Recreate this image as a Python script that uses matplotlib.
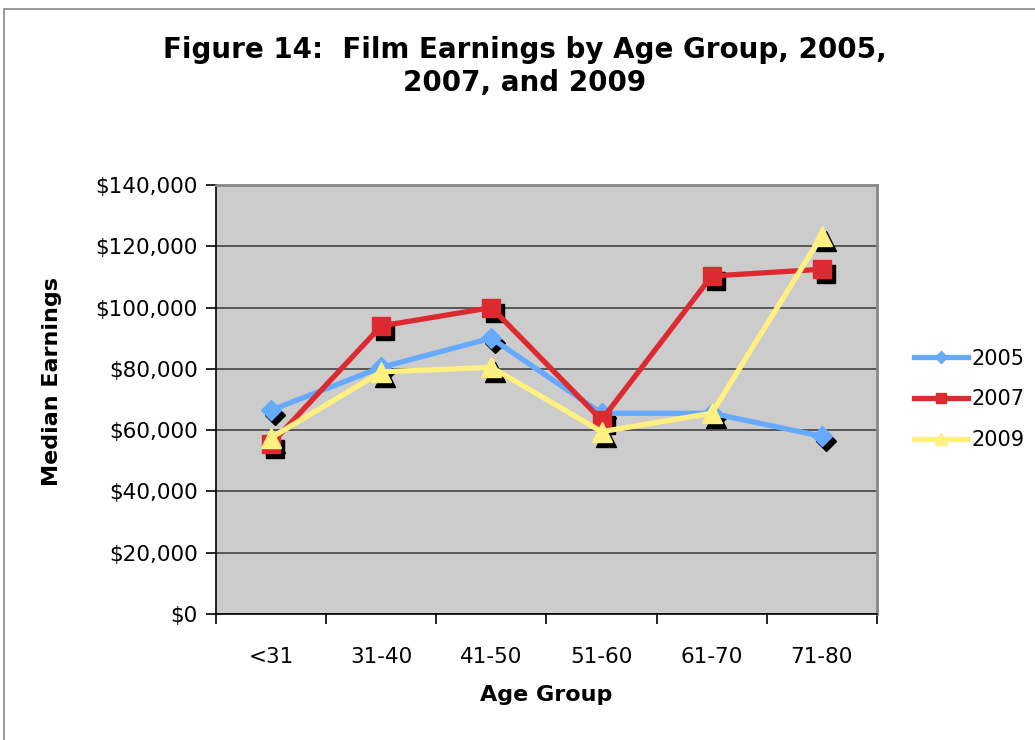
import matplotlib
matplotlib.use("Agg")
import matplotlib.pyplot as plt
import matplotlib.transforms as mtransforms
from matplotlib.patches import Rectangle
from matplotlib.ticker import FuncFormatter, MultipleLocator

age_groups = ["<31", "31-40", "41-50", "51-60", "61-70", "71-80"]
earn_2005 = [66500, 80500, 90000, 65500, 65500, 58000]
earn_2007 = [55500, 94000, 100000, 63300, 110300, 112500]
earn_2009 = [57500, 79000, 80500, 59500, 65500, 123500]

series = [
    ("2005", earn_2005, "#66AAFF", "D", 10),
    ("2007", earn_2007, "#DD2A30", "s", 13),
    ("2009", earn_2009, "#FFF080", "^", 14),
]

fig = plt.figure(figsize=(10.35, 7.4), dpi=100)
ax = fig.add_axes([0.2087, 0.1703, 0.8473 - 0.2087, 0.75 - 0.1703])
ax.set_facecolor("#CCCCCC")

# thin frame around the chart area
fig.patches.append(Rectangle((4 / 1035, -0.01), 1.1, 1 - 9 / 740 + 0.01,
                             transform=fig.transFigure, fill=False,
                             edgecolor="#888888", linewidth=1.2))

x = range(len(age_groups))
shadow = mtransforms.offset_copy(ax.transData, fig=fig, x=4, y=-5, units="dots")

for label, vals, color, marker, ms in series:
    ax.plot(x, vals, linestyle="none", marker=marker, markersize=ms,
            color="black", transform=shadow, zorder=2)
for label, vals, color, marker, ms in series:
    ax.plot(x, vals, color=color, marker=marker, markersize=ms, linewidth=3.8,
            label=label, zorder=3)

ax.set_xlim(-0.5, len(age_groups) - 0.5)
ax.set_ylim(0, 140000)
ax.yaxis.set_major_locator(MultipleLocator(20000))
ax.yaxis.set_major_formatter(FuncFormatter(lambda v, p: f"${v:,.0f}"))
ax.grid(axis="y", color="#444444", linewidth=1.2)
ax.set_axisbelow(True)

ax.set_xticks([i - 0.5 for i in range(len(age_groups) + 1)], minor=False)
ax.set_xticklabels([])
ax.set_xticks(list(x), minor=True)
ax.set_xticklabels(age_groups, minor=True, fontsize=15.5)
ax.tick_params(axis="x", which="minor", length=0, pad=24)
ax.tick_params(axis="x", which="major", direction="out", length=7, width=1.2)
ax.tick_params(axis="y", direction="out", length=7, width=1.2, labelsize=15.5, pad=6)

for s in ["top", "right"]:
    ax.spines[s].set_color("#888888")
    ax.spines[s].set_linewidth(2)
for s in ["left", "bottom"]:
    ax.spines[s].set_color("black")
    ax.spines[s].set_linewidth(1.2)

ax.set_xlabel("Age Group", fontsize=16, fontweight="bold")
ax.xaxis.set_label_coords(0.5, -0.165)
ax.set_ylabel("Median Earnings", fontsize=16, fontweight="bold")
ax.yaxis.set_label_coords(-0.233, 0.543)

fig.text(0.507, 0.91, "Figure 14:  Film Earnings by Age Group, 2005,\n2007, and 2009",
         ha="center", va="center", fontsize=20, fontweight="bold", linespacing=1.25)

leg = ax.legend(loc="center left", bbox_to_anchor=(1.027, 0.5), frameon=False,
                fontsize=15, handlelength=2.6, labelspacing=1.0, handletextpad=0.2,
                markerscale=0.6)

fig.savefig("out.png", dpi=100)
